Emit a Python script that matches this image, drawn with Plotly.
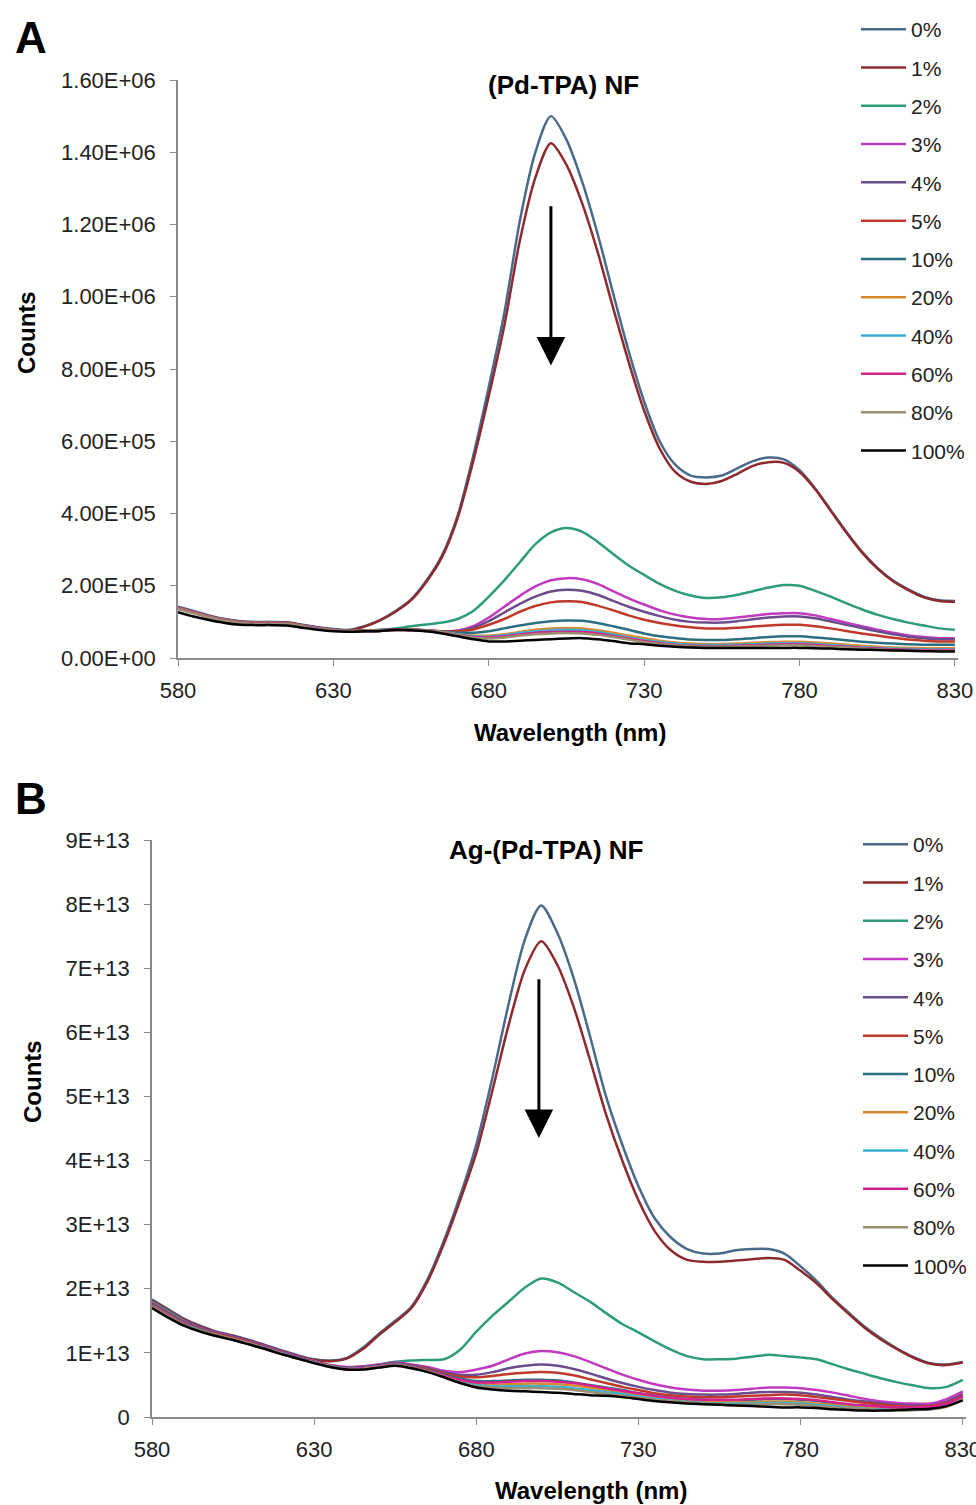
import plotly.graph_objects as go

# ---------------- data ----------------
WAVELENGTH = [580, 585, 590, 595, 600, 605, 610, 615, 620, 625,
              630, 635, 640, 645, 650, 655, 660, 665, 670, 675,
              680, 685, 690, 695, 700, 705, 710, 715, 720, 725,
              730, 735, 740, 745, 750, 755, 760, 765, 770, 775,
              780, 785, 790, 795, 800, 805, 810, 815, 820, 825,
              830]

SERIES_NAMES = ["0%", "1%", "2%", "3%", "4%", "5%", "10%", "20%", "40%", "60%", "80%", "100%"]
SERIES_COLORS = ["#4A6A8C", "#8E2A2E", "#2E9C78", "#C23AC0", "#6B4C8C", "#C0392B",
                 "#2B6F80", "#D9892F", "#3BB2D0", "#D4218F", "#9C8E6E", "#000000"]

# Panel A: (Pd-TPA) NF, counts in units of 1e5
A_SCALE = 1e5
A_0 = [1.42, 1.30, 1.18, 1.08, 1.02, 1.00, 1.00, 0.99, 0.92, 0.85,
       0.80, 0.78, 0.88, 1.05, 1.30, 1.62, 2.15, 2.85, 3.95, 5.60,
       7.50, 9.55, 12.10, 14.00, 15.00, 14.35, 13.20, 11.75, 10.10, 8.50,
       7.10, 6.00, 5.35, 5.05, 5.00, 5.05, 5.25, 5.45, 5.55, 5.50,
       5.20, 4.70, 4.10, 3.50, 2.95, 2.50, 2.15, 1.90, 1.70, 1.60,
       1.58]
A_1 = [1.40, 1.28, 1.16, 1.07, 1.01, 0.99, 0.99, 0.98, 0.91, 0.84,
       0.79, 0.77, 0.87, 1.04, 1.28, 1.60, 2.12, 2.80, 3.88, 5.45,
       7.25, 9.20, 11.55, 13.30, 14.25, 13.65, 12.60, 11.25, 9.70, 8.20,
       6.85, 5.80, 5.15, 4.88, 4.82, 4.90, 5.10, 5.32, 5.42, 5.40,
       5.15, 4.68, 4.08, 3.48, 2.93, 2.48, 2.13, 1.88, 1.68, 1.58,
       1.56]
A_2 = [1.40, 1.28, 1.16, 1.06, 1.00, 0.98, 0.98, 0.96, 0.90, 0.83,
       0.78, 0.76, 0.76, 0.78, 0.82, 0.88, 0.93, 0.98, 1.08, 1.30,
       1.70, 2.15, 2.65, 3.15, 3.48, 3.60, 3.50, 3.22, 2.88, 2.56,
       2.30, 2.05, 1.86, 1.73, 1.66, 1.68, 1.75, 1.85, 1.95, 2.02,
       2.00, 1.86, 1.70, 1.52, 1.35, 1.20, 1.08, 0.98, 0.90, 0.82,
       0.78]
A_3 = [1.40, 1.28, 1.16, 1.06, 1.00, 0.98, 0.98, 0.96, 0.90, 0.83,
       0.78, 0.76, 0.76, 0.77, 0.79, 0.79, 0.77, 0.74, 0.76, 0.88,
       1.12, 1.42, 1.72, 1.98, 2.15, 2.21, 2.18, 2.05, 1.85, 1.65,
       1.48, 1.32, 1.20, 1.12, 1.08, 1.08, 1.12, 1.17, 1.22, 1.24,
       1.24, 1.18, 1.08, 0.98, 0.88, 0.78, 0.70, 0.62, 0.58, 0.55,
       0.55]
A_4 = [1.39, 1.27, 1.15, 1.06, 1.00, 0.98, 0.98, 0.96, 0.89, 0.82,
       0.78, 0.76, 0.76, 0.77, 0.79, 0.79, 0.77, 0.74, 0.75, 0.84,
       1.02, 1.26, 1.50, 1.70, 1.84, 1.89, 1.86, 1.75, 1.58, 1.42,
       1.28, 1.16, 1.06, 1.00, 0.98, 0.98, 1.02, 1.07, 1.12, 1.15,
       1.15, 1.10, 1.01, 0.92, 0.83, 0.74, 0.66, 0.59, 0.55, 0.52,
       0.52]
A_5 = [1.39, 1.27, 1.15, 1.05, 0.99, 0.97, 0.97, 0.96, 0.89, 0.82,
       0.77, 0.75, 0.75, 0.76, 0.78, 0.78, 0.76, 0.74, 0.74, 0.79,
       0.92, 1.08, 1.28, 1.44, 1.54, 1.57, 1.55, 1.45, 1.32, 1.18,
       1.06, 0.97, 0.90, 0.85, 0.82, 0.82, 0.84, 0.87, 0.90, 0.92,
       0.92, 0.88, 0.82, 0.75, 0.68, 0.62, 0.56, 0.51, 0.48, 0.46,
       0.46]
A_10 = [1.38, 1.26, 1.14, 1.05, 0.99, 0.97, 0.97, 0.96, 0.89, 0.82,
        0.77, 0.75, 0.75, 0.76, 0.78, 0.78, 0.76, 0.73, 0.70, 0.70,
        0.74, 0.82, 0.90, 0.97, 1.02, 1.04, 1.03, 0.97, 0.88, 0.78,
        0.68, 0.60, 0.55, 0.51, 0.50, 0.50, 0.52, 0.55, 0.58, 0.60,
        0.60, 0.57, 0.53, 0.49, 0.45, 0.42, 0.40, 0.38, 0.37, 0.37,
        0.37]
A_20 = [1.38, 1.26, 1.14, 1.05, 0.99, 0.97, 0.97, 0.96, 0.89, 0.82,
        0.77, 0.75, 0.75, 0.76, 0.78, 0.78, 0.76, 0.72, 0.66, 0.62,
        0.62, 0.66, 0.72, 0.78, 0.82, 0.83, 0.82, 0.77, 0.70, 0.62,
        0.55, 0.48, 0.43, 0.40, 0.39, 0.39, 0.40, 0.42, 0.44, 0.45,
        0.45, 0.43, 0.40, 0.37, 0.34, 0.31, 0.29, 0.28, 0.27, 0.27,
        0.28]
A_40 = [1.37, 1.25, 1.13, 1.04, 0.98, 0.96, 0.96, 0.95, 0.88, 0.81,
        0.76, 0.74, 0.74, 0.75, 0.77, 0.77, 0.75, 0.71, 0.65, 0.60,
        0.59, 0.63, 0.69, 0.74, 0.77, 0.78, 0.77, 0.72, 0.65, 0.57,
        0.50, 0.44, 0.40, 0.37, 0.36, 0.36, 0.37, 0.38, 0.40, 0.41,
        0.41, 0.39, 0.36, 0.33, 0.30, 0.28, 0.26, 0.25, 0.24, 0.24,
        0.25]
A_60 = [1.37, 1.25, 1.13, 1.04, 0.98, 0.96, 0.96, 0.95, 0.88, 0.81,
        0.76, 0.74, 0.74, 0.75, 0.77, 0.77, 0.75, 0.70, 0.64, 0.58,
        0.57, 0.60, 0.65, 0.70, 0.72, 0.73, 0.72, 0.68, 0.61, 0.54,
        0.47, 0.41, 0.37, 0.34, 0.33, 0.33, 0.34, 0.35, 0.37, 0.38,
        0.38, 0.36, 0.33, 0.31, 0.28, 0.26, 0.24, 0.23, 0.22, 0.22,
        0.23]
A_80 = [1.36, 1.24, 1.12, 1.03, 0.97, 0.95, 0.95, 0.94, 0.87, 0.80,
        0.76, 0.74, 0.74, 0.75, 0.77, 0.77, 0.75, 0.70, 0.63, 0.56,
        0.54, 0.57, 0.62, 0.66, 0.68, 0.69, 0.68, 0.64, 0.58, 0.51,
        0.44, 0.39, 0.35, 0.32, 0.31, 0.31, 0.32, 0.33, 0.34, 0.35,
        0.35, 0.33, 0.31, 0.29, 0.26, 0.24, 0.22, 0.21, 0.20, 0.20,
        0.21]
A_100 = [1.27, 1.15, 1.05, 0.97, 0.92, 0.91, 0.91, 0.90, 0.84, 0.78,
         0.74, 0.73, 0.74, 0.75, 0.78, 0.77, 0.74, 0.68, 0.60, 0.52,
         0.46, 0.46, 0.48, 0.50, 0.52, 0.54, 0.55, 0.52, 0.47, 0.41,
         0.38, 0.34, 0.31, 0.29, 0.28, 0.28, 0.28, 0.28, 0.28, 0.28,
         0.28, 0.27, 0.26, 0.24, 0.23, 0.22, 0.21, 0.20, 0.19, 0.18,
         0.18]

# Panel B: Ag-(Pd-TPA) NF, counts in units of 1e13
B_SCALE = 1e13
B_0 = [1.83, 1.68, 1.53, 1.42, 1.33, 1.27, 1.20, 1.12, 1.04, 0.96,
       0.90, 0.88, 0.92, 1.08, 1.30, 1.50, 1.72, 2.15, 2.75, 3.45,
       4.25, 5.30, 6.45, 7.45, 7.98, 7.55, 6.85, 5.95, 5.00, 4.25,
       3.60, 3.10, 2.80, 2.62, 2.55, 2.55, 2.60, 2.62, 2.62, 2.55,
       2.35, 2.12, 1.85, 1.62, 1.40, 1.22, 1.06, 0.93, 0.84, 0.82,
       0.86]
B_1 = [1.82, 1.67, 1.52, 1.41, 1.32, 1.26, 1.19, 1.11, 1.03, 0.95,
       0.89, 0.87, 0.91, 1.06, 1.28, 1.48, 1.70, 2.12, 2.70, 3.38,
       4.12, 5.10, 6.12, 6.98, 7.42, 7.05, 6.40, 5.58, 4.72, 4.00,
       3.38, 2.90, 2.60, 2.45, 2.42, 2.42, 2.44, 2.46, 2.48, 2.45,
       2.28, 2.08, 1.83, 1.60, 1.38, 1.20, 1.05, 0.92, 0.83, 0.81,
       0.85]
B_2 = [1.80, 1.65, 1.50, 1.39, 1.30, 1.24, 1.17, 1.09, 1.01, 0.93,
       0.87, 0.80, 0.77, 0.78, 0.82, 0.86, 0.88, 0.89, 0.90, 1.05,
       1.33, 1.58, 1.80, 2.02, 2.16, 2.10, 1.95, 1.80, 1.62, 1.45,
       1.32, 1.18, 1.05, 0.95, 0.90, 0.90, 0.91, 0.94, 0.97, 0.95,
       0.93, 0.90, 0.82, 0.74, 0.67, 0.60, 0.54, 0.49, 0.45, 0.47,
       0.58]
B_3 = [1.78, 1.63, 1.49, 1.39, 1.31, 1.25, 1.18, 1.10, 1.02, 0.94,
       0.87, 0.81, 0.78, 0.79, 0.82, 0.85, 0.82, 0.78, 0.72, 0.70,
       0.74, 0.80, 0.90, 0.99, 1.03, 1.01, 0.95, 0.86, 0.76, 0.66,
       0.58, 0.51, 0.46, 0.43, 0.41, 0.41, 0.42, 0.44, 0.46, 0.46,
       0.45, 0.42, 0.38, 0.33, 0.28, 0.24, 0.22, 0.21, 0.21, 0.28,
       0.40]
B_4 = [1.77, 1.62, 1.48, 1.38, 1.30, 1.24, 1.17, 1.09, 1.01, 0.93,
       0.86, 0.80, 0.77, 0.78, 0.81, 0.84, 0.81, 0.76, 0.70, 0.66,
       0.66, 0.70, 0.76, 0.80, 0.82, 0.80, 0.75, 0.68, 0.60, 0.53,
       0.47, 0.42, 0.38, 0.36, 0.35, 0.35, 0.36, 0.38, 0.39, 0.39,
       0.38, 0.35, 0.31, 0.27, 0.24, 0.21, 0.19, 0.18, 0.18, 0.24,
       0.36]
B_5 = [1.76, 1.61, 1.47, 1.37, 1.29, 1.23, 1.16, 1.08, 1.00, 0.92,
       0.86, 0.80, 0.76, 0.77, 0.80, 0.83, 0.80, 0.75, 0.68, 0.63,
       0.62, 0.64, 0.67, 0.69, 0.70, 0.69, 0.65, 0.59, 0.53, 0.47,
       0.42, 0.37, 0.34, 0.32, 0.31, 0.31, 0.32, 0.33, 0.34, 0.35,
       0.34, 0.31, 0.28, 0.25, 0.22, 0.19, 0.17, 0.16, 0.17, 0.22,
       0.33]
B_10 = [1.75, 1.60, 1.46, 1.36, 1.28, 1.22, 1.15, 1.07, 0.99, 0.92,
        0.85, 0.79, 0.76, 0.77, 0.80, 0.83, 0.79, 0.73, 0.66, 0.60,
        0.56, 0.56, 0.57, 0.58, 0.58, 0.57, 0.54, 0.50, 0.46, 0.42,
        0.37, 0.33, 0.30, 0.28, 0.27, 0.26, 0.26, 0.27, 0.28, 0.28,
        0.27, 0.25, 0.22, 0.19, 0.17, 0.15, 0.14, 0.14, 0.15, 0.20,
        0.31]
B_20 = [1.74, 1.59, 1.45, 1.35, 1.28, 1.22, 1.15, 1.07, 0.99, 0.91,
        0.85, 0.79, 0.75, 0.76, 0.79, 0.82, 0.78, 0.72, 0.64, 0.57,
        0.52, 0.51, 0.51, 0.52, 0.52, 0.51, 0.49, 0.46, 0.42, 0.39,
        0.35, 0.31, 0.28, 0.26, 0.24, 0.23, 0.23, 0.23, 0.24, 0.24,
        0.23, 0.21, 0.19, 0.17, 0.15, 0.13, 0.12, 0.12, 0.13, 0.18,
        0.29]
B_40 = [1.73, 1.58, 1.44, 1.35, 1.27, 1.21, 1.14, 1.07, 0.99, 0.91,
        0.85, 0.79, 0.75, 0.76, 0.79, 0.82, 0.78, 0.71, 0.63, 0.55,
        0.50, 0.48, 0.48, 0.48, 0.48, 0.47, 0.45, 0.42, 0.39, 0.36,
        0.32, 0.29, 0.26, 0.24, 0.22, 0.21, 0.21, 0.21, 0.22, 0.22,
        0.21, 0.19, 0.17, 0.15, 0.13, 0.12, 0.11, 0.11, 0.12, 0.17,
        0.27]
B_60 = [1.73, 1.58, 1.44, 1.34, 1.27, 1.21, 1.14, 1.06, 0.98, 0.91,
        0.84, 0.78, 0.75, 0.76, 0.79, 0.82, 0.78, 0.72, 0.65, 0.58,
        0.54, 0.54, 0.55, 0.56, 0.56, 0.55, 0.53, 0.49, 0.45, 0.41,
        0.37, 0.33, 0.30, 0.28, 0.27, 0.27, 0.27, 0.28, 0.29, 0.29,
        0.28, 0.26, 0.23, 0.20, 0.18, 0.16, 0.15, 0.15, 0.16, 0.21,
        0.32]
B_80 = [1.72, 1.57, 1.43, 1.34, 1.27, 1.21, 1.14, 1.06, 0.98, 0.91,
        0.84, 0.78, 0.74, 0.75, 0.78, 0.81, 0.77, 0.71, 0.63, 0.54,
        0.48, 0.46, 0.45, 0.45, 0.45, 0.44, 0.42, 0.39, 0.36, 0.33,
        0.30, 0.27, 0.25, 0.23, 0.21, 0.20, 0.19, 0.19, 0.20, 0.20,
        0.19, 0.17, 0.15, 0.14, 0.12, 0.11, 0.10, 0.11, 0.12, 0.16,
        0.27]
B_100 = [1.70, 1.55, 1.42, 1.33, 1.26, 1.20, 1.13, 1.06, 0.98, 0.91,
         0.84, 0.78, 0.74, 0.74, 0.77, 0.80, 0.76, 0.70, 0.62, 0.53,
         0.46, 0.43, 0.41, 0.40, 0.39, 0.38, 0.36, 0.34, 0.33, 0.31,
         0.28, 0.25, 0.23, 0.21, 0.20, 0.19, 0.18, 0.17, 0.16, 0.15,
         0.15, 0.14, 0.12, 0.11, 0.10, 0.10, 0.11, 0.12, 0.13, 0.17,
         0.26]

A_SERIES = [A_0, A_1, A_2, A_3, A_4, A_5, A_10, A_20, A_40, A_60, A_80, A_100]
B_SERIES = [B_0, B_1, B_2, B_3, B_4, B_5, B_10, B_20, B_40, B_60, B_80, B_100]

X_TICKS = [580, 630, 680, 730, 780, 830]
A_YTICK_VALS = [0, 2e5, 4e5, 6e5, 8e5, 1e6, 1.2e6, 1.4e6, 1.6e6]
A_YTICK_TEXT = ["0.00E+00", "2.00E+05", "4.00E+05", "6.00E+05", "8.00E+05",
                "1.00E+06", "1.20E+06", "1.40E+06", "1.60E+06"]
B_YTICK_VALS = [0, 1e13, 2e13, 3e13, 4e13, 5e13, 6e13, 7e13, 8e13, 9e13]
B_YTICK_TEXT = ["0", "1E+13", "2E+13", "3E+13", "4E+13", "5E+13", "6E+13", "7E+13", "8E+13", "9E+13"]

TITLE_A = "(Pd-TPA) NF"
TITLE_B = "Ag-(Pd-TPA) NF"
# arrow (wavelength, start count, end count)
ARROW_A = (700, 12.55e5, 8.1e5)
ARROW_B = (699.3, 6.85e13, 4.35e13)

# ---------------- layout helpers ----------------
W, H = 976, 1505
FONT = "Liberation Sans, Arial, sans-serif"


def px(x):
    return x / W


def py(y):
    return 1 - y / H


fig = go.Figure()

for name, color, vals in zip(SERIES_NAMES, SERIES_COLORS, A_SERIES):
    fig.add_trace(go.Scatter(
        x=WAVELENGTH, y=[v * A_SCALE for v in vals], mode="lines", name=name,
        line=dict(color=color, width=2.5, shape="spline", smoothing=0.8),
        xaxis="x", yaxis="y", legend="legend", legendgroup="A" + name))

for name, color, vals in zip(SERIES_NAMES, SERIES_COLORS, B_SERIES):
    fig.add_trace(go.Scatter(
        x=WAVELENGTH, y=[v * B_SCALE for v in vals], mode="lines", name=name,
        line=dict(color=color, width=2.5, shape="spline", smoothing=0.8),
        xaxis="x2", yaxis="y2", legend="legend2", legendgroup="B" + name))

axis_common = dict(showgrid=False, zeroline=False, showline=True, linecolor="#8a8a8a",
                   linewidth=1.5, ticks="outside", ticklen=6, tickcolor="#8a8a8a",
                   tickwidth=1.2, automargin=False, ticklabeloverflow="allow",
                   tickfont=dict(family=FONT, size=22, color="#222222"))

fig.update_layout(
    width=W, height=H,
    margin=dict(l=0, r=0, t=0, b=0, autoexpand=False),
    paper_bgcolor="white", plot_bgcolor="white",
    font=dict(family=FONT, color="#222222"),
    xaxis=dict(domain=[px(178), px(958)], range=[580, 831], anchor="y",
               tickvals=X_TICKS, ticklabelstandoff=6, **axis_common),
    yaxis=dict(domain=[py(658), py(80)], range=[0, 1.6e6], anchor="x",
               tickvals=A_YTICK_VALS, ticktext=A_YTICK_TEXT, ticklabelstandoff=10, **axis_common),
    xaxis2=dict(domain=[px(152), px(966)], range=[580, 831], anchor="y2",
                tickvals=X_TICKS, ticklabelstandoff=6, **axis_common),
    yaxis2=dict(domain=[py(1417), py(840)], range=[0, 9e13], anchor="x2",
                tickvals=B_YTICK_VALS, ticktext=B_YTICK_TEXT, ticklabelstandoff=10, **axis_common),
    legend=dict(x=px(856), y=py(9), xanchor="left", yanchor="top",
                bgcolor="rgba(0,0,0,0)", tracegroupgap=8, itemwidth=45,
                font=dict(family=FONT, size=21, color="#222222")),
    legend2=dict(x=px(858), y=py(824), xanchor="left", yanchor="top",
                 bgcolor="rgba(0,0,0,0)", tracegroupgap=8, itemwidth=45,
                 font=dict(family=FONT, size=21, color="#222222")),
)

bold = dict(family="Liberation Sans, Arial, sans-serif", color="black")
annotations = [
    dict(text="<b>A</b>", x=px(31), y=py(37), font=dict(size=44, **bold)),
    dict(text="<b>B</b>", x=px(31), y=py(798), font=dict(size=44, **bold)),
    dict(text="<b>%s</b>" % TITLE_A, x=px(563), y=py(85), font=dict(size=26, **bold)),
    dict(text="<b>%s</b>" % TITLE_B, x=px(546), y=py(850), font=dict(size=26, **bold)),
    dict(text="<b>Wavelength (nm)</b>", x=px(570), y=py(732), font=dict(size=24, **bold)),
    dict(text="<b>Wavelength (nm)</b>", x=px(591), y=py(1490), font=dict(size=24, **bold)),
    dict(text="<b>Counts</b>", x=px(26), y=py(333), textangle=-90, font=dict(size=24, **bold)),
    dict(text="<b>Counts</b>", x=px(32), y=py(1082), textangle=-90, font=dict(size=24, **bold)),
]
for a in annotations:
    a.update(xref="paper", yref="paper", showarrow=False, xanchor="center", yanchor="middle")
    fig.add_annotation(**a)

fig.add_annotation(x=ARROW_A[0], y=ARROW_A[2], ax=ARROW_A[0], ay=ARROW_A[1],
                   xref="x", yref="y", axref="x", ayref="y", showarrow=True,
                   arrowhead=2, arrowsize=1.9, arrowwidth=3, arrowcolor="black", standoff=0, text="")
fig.add_annotation(x=ARROW_B[0], y=ARROW_B[2], ax=ARROW_B[0], ay=ARROW_B[1],
                   xref="x2", yref="y2", axref="x2", ayref="y2", showarrow=True,
                   arrowhead=2, arrowsize=1.9, arrowwidth=3, arrowcolor="black", standoff=0, text="")

fig.write_html(
    "out.html",
    config={"displayModeBar": False},
    post_script="document.body.style.margin='0';document.body.style.padding='0';"
                "document.documentElement.style.overflow='hidden';",
)
